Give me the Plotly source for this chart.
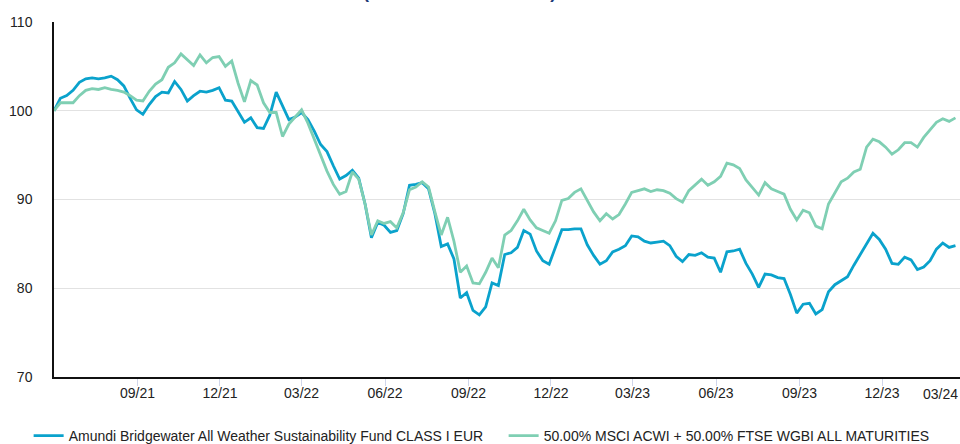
import pandas as pd
import plotly.graph_objects as go

dates = pd.date_range("2021-06-01", periods=143, freq="7D")

fund = [
    100.0, 101.4, 101.7, 102.3, 103.2, 103.6, 103.7, 103.6, 103.7, 103.9,
    103.5, 102.8, 101.4, 100.1, 99.6, 100.7, 101.6, 102.1, 102.0, 103.3,
    102.4, 101.1, 101.7, 102.2, 102.1, 102.3, 102.6, 101.2, 101.1, 99.9,
    98.7, 99.2, 98.1, 98.0, 99.5, 102.1, 100.5, 99.0, 99.3, 99.8,
    99.0, 97.7, 96.2, 95.4, 93.8, 92.3, 92.7, 93.3, 92.4, 89.5,
    85.7, 87.4, 87.1, 86.3, 86.5, 88.4, 91.6, 91.7, 91.9, 91.2,
    88.4, 84.7, 85.0, 83.3, 78.9, 79.5, 77.5, 77.0, 77.9, 80.6,
    80.3, 83.8, 84.0, 84.6, 86.5, 86.1, 84.2, 83.1, 82.7, 84.6,
    86.6, 86.6, 86.7, 86.7, 84.9, 83.7, 82.7, 83.1, 84.1, 84.4,
    84.8, 85.9, 85.8, 85.3, 85.1, 85.2, 85.3, 84.8, 83.6, 83.0,
    83.8, 83.7, 84.0, 83.5, 83.4, 81.8, 84.1, 84.2, 84.4, 82.8,
    81.6, 80.1, 81.6, 81.5, 81.2, 81.1, 79.3, 77.2, 78.2, 78.3,
    77.1, 77.6, 79.6, 80.4, 80.9, 81.3, 82.6, 83.8, 85.1, 86.2,
    85.5, 84.4, 82.8, 82.7, 83.5, 83.2, 82.1, 82.4, 83.1, 84.4,
    85.1, 84.6, 84.8,
]

benchmark = [
    100.0, 100.9, 100.9, 100.9, 101.7, 102.3, 102.5, 102.4, 102.6, 102.4,
    102.3, 102.1, 101.7, 101.2, 101.1, 102.2, 103.0, 103.5, 104.9, 105.4,
    106.4, 105.8, 105.1, 106.3, 105.4, 106.0, 106.1, 105.0, 105.6, 103.1,
    101.0, 103.4, 102.9, 100.9, 99.8, 99.8, 97.1, 98.5, 99.3, 100.1,
    98.6, 96.8, 94.9, 93.2, 91.7, 90.6, 90.9, 93.1, 92.3, 89.5,
    86.0, 87.6, 87.3, 87.5, 86.8, 88.5, 91.1, 91.4, 92.0, 91.4,
    88.6, 86.0, 88.0, 85.3, 81.8, 82.5, 80.6, 80.5, 81.8, 83.4,
    82.3, 86.0, 86.5, 87.6, 88.9, 87.7, 86.8, 86.5, 86.2, 87.6,
    89.9, 90.1, 90.8, 91.2, 89.9, 88.6, 87.6, 88.4, 87.8, 88.3,
    89.5, 90.8, 91.0, 91.2, 90.9, 91.1, 91.0, 90.7, 90.1, 89.7,
    91.0, 91.7, 92.3, 91.6, 92.0, 92.6, 94.1, 93.9, 93.5, 92.2,
    91.3, 90.5, 91.9, 91.2, 90.9, 90.6, 88.9, 87.7, 88.8, 88.5,
    87.0, 86.7, 89.5, 90.8, 92.0, 92.4, 93.1, 93.4, 95.9, 96.8,
    96.5, 95.9, 95.1, 95.6, 96.4, 96.4, 95.9, 97.0, 97.8, 98.7,
    99.1, 98.8, 99.2,
]

series_names = [
    "Amundi Bridgewater All Weather Sustainability Fund CLASS I EUR",
    "50.00% MSCI ACWI + 50.00% FTSE WGBI ALL MATURITIES",
]
series_colors = ["#0aa2cc", "#7fcfb3"]

tick_dates = ["2021-09-01", "2021-12-01", "2022-03-01", "2022-06-01", "2022-09-01",
              "2022-12-01", "2023-03-01", "2023-06-01", "2023-09-01", "2023-12-01"]
tick_labels = ["09/21", "12/21", "03/22", "06/22", "09/22",
               "12/22", "03/23", "06/23", "09/23", "12/23"]
last_label = "03/24"
last_label_pos = "2024-02-04"

y_ticks = [70, 80, 90, 100, 110]
title_text = "PERFORMANCE SINCE INCEPTION (Source : Fund Admin)"

fig = go.Figure()
for vals, name, col in zip([fund, benchmark], series_names, series_colors):
    fig.add_trace(go.Scatter(
        x=dates, y=vals, mode="lines", name=name,
        line=dict(color=col, width=2.8),
    ))

font_family = "Liberation Sans, Arial, sans-serif"

fig.update_layout(
    width=960, height=444,
    margin=dict(l=54, r=0, t=22, b=67, autoexpand=False),
    paper_bgcolor="white", plot_bgcolor="white",
    font=dict(family=font_family, size=14, color="#222222"),
    showlegend=True,
    legend=dict(orientation="h", x=-0.028, xanchor="left", y=-0.166, yanchor="middle",
                font=dict(size=14, color="#222222"), itemwidth=30,
                entrywidth=430, entrywidthmode="pixels",
                traceorder="normal"),
    xaxis=dict(
        type="date", automargin=False,
        range=["2021-06-01", "2024-02-25"],
        tickvals=tick_dates, ticktext=tick_labels,
        showgrid=False, showline=True, linecolor="#111111", linewidth=1.5,
        ticks="outside", ticklen=7, tickcolor="#d0d6ea", tickwidth=1,
        ticklabelstandoff=-5,
        tickfont=dict(size=14, color="#222222"),
        zeroline=False,
    ),
    yaxis=dict(
        range=[70, 110], tickvals=y_ticks, automargin=False,
        showgrid=True, gridcolor="#e2e2e2", gridwidth=1.2,
        showline=True, linecolor="#111111", linewidth=1.5,
        ticks="", ticklabelstandoff=17,
        tickfont=dict(size=14, color="#222222"),
        zeroline=False,
    ),
)

fig.add_annotation(
    x=last_label_pos, xref="x", y=0, yref="paper", yanchor="top",
    yshift=-7, text=last_label, showarrow=False,
    font=dict(size=14, color="#222222", family=font_family),
)
fig.add_annotation(
    x=-0.002, xref="paper", xanchor="left", y=1, yref="paper", yanchor="bottom",
    yshift=18, text="<b>" + title_text + "</b>", showarrow=False,
    font=dict(size=18, color="#1d3a78", family=font_family),
)

fig.write_html("out.html", config={"displayModeBar": False},
               post_script="document.body.style.margin='0';")
